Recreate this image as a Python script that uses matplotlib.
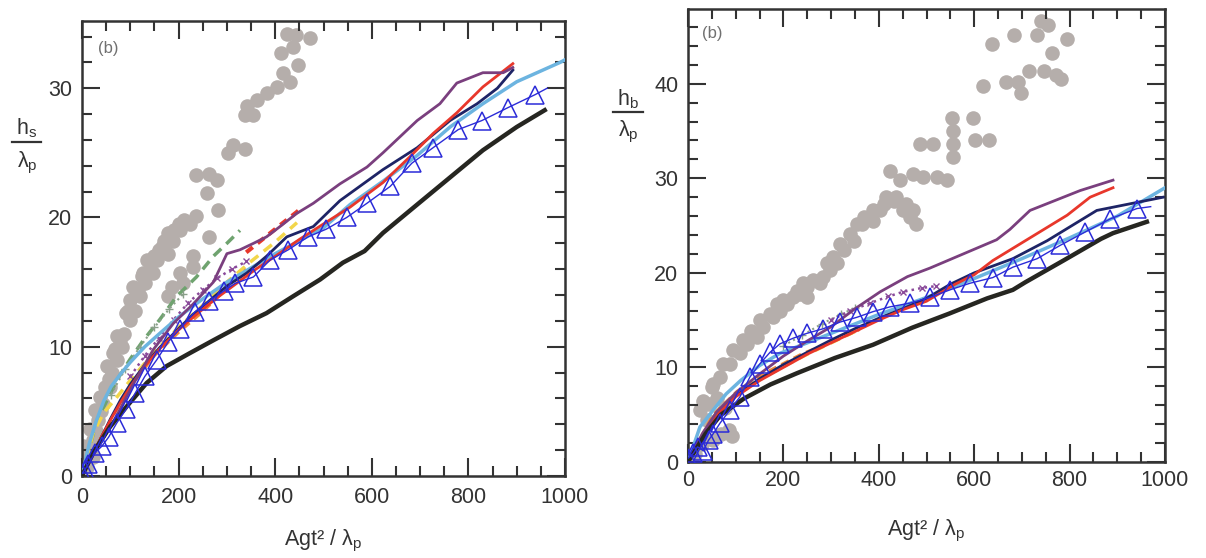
import numpy as np
import matplotlib
matplotlib.use('Agg')
import matplotlib.pyplot as plt
from matplotlib.lines import Line2D
from matplotlib.ticker import MultipleLocator

plt.rcParams['font.family'] = ['Liberation Sans', 'DejaVu Sans']
plt.rcParams['mathtext.fontset'] = 'custom'
plt.rcParams['mathtext.rm'] = 'Liberation Sans'

# ---------------- left panel (h_s / lambda_p) ----------------
ls_dots_x = [424, 444, 472, 413, 437, 448, 417, 431, 403, 382, 362, 341, 337, 355, 313, 337, 303,
             237, 262, 279, 258, 282, 237, 200, 179, 203, 224, 165, 189, 155, 179, 148, 130, 120,
             110, 99, 86, 82, 72, 62, 58, 44, 34, 23, 10, 10,
             262, 230, 230, 203, 186, 179, 210, 134, 127, 106, 99, 92, 72, 65, 51, 48, 37, 27, 17, 3, 23,
             115, 125, 140, 160, 170, 190, 212, 150, 95, 78, 68, 55, 40, 30, 20]
ls_dots_y = [34.2, 34.1, 33.9, 32.7, 33.2, 31.8, 31.2, 30.5, 30.1, 29.6, 29.1, 28.6, 27.9, 27.9, 25.6, 25.3, 25.0,
             23.3, 23.4, 22.9, 21.9, 20.6, 20.1, 19.5, 18.8, 19.0, 19.5, 17.7, 18.2, 16.7, 17.2, 15.7, 14.9, 13.9,
             12.8, 12.1, 11.0, 10.0, 9.0, 8.0, 6.9, 5.6, 4.3, 2.8, 1.8, 0.7,
             18.5, 17.0, 16.2, 15.7, 14.6, 13.9, 14.9, 16.7, 15.7, 14.6, 13.6, 12.6, 10.8, 9.5, 8.5, 6.9, 6.1, 5.1, 3.6, 2.3, 1.5,
             14.5, 15.5, 16.0, 17.5, 18.2, 19.0, 19.8, 17.0, 12.8, 10.5, 9.8, 7.5, 5.0, 3.5, 2.5]

ls_black_x = [0, 23, 58, 93, 134, 175, 223, 272, 327, 382, 437, 493, 540, 585, 623, 694, 762, 830, 900, 958]
ls_black_y = [0, 1.8, 3.8, 5.4, 7.2, 8.5, 9.5, 10.5, 11.6, 12.6, 13.9, 15.2, 16.5, 17.4, 18.8, 21.0, 23.1, 25.2, 27.0, 28.3]

ls_purple_x = [0, 23, 65, 106, 148, 189, 230, 272, 286, 300, 327, 355, 382, 410, 444, 479, 534, 590, 623, 694, 741, 776, 830, 872, 892]
ls_purple_y = [0, 1.6, 4.2, 7.1, 9.8, 11.8, 13.3, 15.0, 16.1, 17.2, 17.5, 18.0, 18.5, 19.3, 20.3, 21.1, 22.6, 23.9, 25.0, 27.5, 28.8, 30.4, 31.2, 31.2, 31.6]

ls_red_x = [0, 20, 40, 60, 80, 100, 130, 160, 200, 240, 280, 320, 360, 400, 450, 500, 555, 623, 679, 727, 776, 830, 892]
ls_red_y = [0, 1.5, 3.0, 4.4, 5.7, 6.9, 8.5, 9.8, 11.3, 12.6, 13.8, 14.9, 16.0, 17.0, 18.3, 19.5, 20.8, 22.7, 24.7, 26.5, 28.1, 30.1, 31.9]

ls_redshort_x = [340, 370, 410, 444, 450]
ls_redshort_y = [17.3, 18.2, 19.4, 20.4, 20.6]

ls_navy_x = [0, 20, 40, 60, 80, 100, 130, 160, 200, 230, 265, 300, 341, 382, 424, 479, 534, 623, 694, 762, 818, 860, 892]
ls_navy_y = [0, 1.5, 3.0, 4.5, 5.9, 7.1, 8.6, 9.9, 11.4, 12.5, 13.6, 14.7, 15.7, 17.0, 18.5, 19.3, 21.3, 23.7, 25.4, 27.5, 28.8, 30.0, 31.4]

ls_lblue_x = [0, 15, 30, 45, 60, 80, 100, 130, 160, 200, 250, 300, 350, 400, 450, 500, 555, 623, 694, 762, 830, 900, 990, 1000]
ls_lblue_y = [0, 2.5, 4.3, 5.8, 6.9, 7.9, 8.8, 10.0, 11.0, 12.3, 13.7, 15.0, 16.1, 17.2, 18.2, 19.2, 21.0, 22.8, 24.8, 27.0, 28.8, 30.5, 32.0, 32.2]

ls_yellow_x = [0, 23, 45, 70, 100, 150, 200, 250, 300, 350, 400, 445]
ls_yellow_y = [0, 3.3, 4.9, 6.0, 7.4, 9.6, 11.5, 13.2, 15.0, 16.6, 18.1, 19.6]

ls_orange_x = [0, 30, 60, 100, 150, 200, 250, 300, 340]
ls_orange_y = [0, 2.3, 4.4, 6.9, 9.3, 11.1, 12.7, 14.5, 16.0]

ls_green_x = [0, 30, 72, 99, 127, 161, 196, 237, 272, 300, 327]
ls_green_y = [0, 4.2, 7.4, 9.0, 10.5, 12.1, 13.9, 15.4, 17.0, 18.0, 19.0]

ls_pcross_x = [100, 130, 160, 190, 220, 250, 280, 310, 340]
ls_pcross_y = [7.7, 9.3, 10.7, 12.1, 13.4, 14.4, 15.3, 16.0, 16.6]

ls_gplus_x = [60, 90, 120, 150, 180, 210]
ls_gplus_y = [6.3, 8.3, 10.0, 11.5, 12.9, 14.1]

ls_tri_x = [0, 6, 13, 27, 41, 55, 72, 92, 110, 130, 155, 179, 203, 234, 262, 293, 317, 355, 389, 427,
            468, 506, 548, 590, 638, 683, 727, 779, 828, 882, 938, 963]
ls_tri_y = [0.2, 0.5, 0.9, 1.8, 2.3, 3.0, 4.1, 5.2, 6.4, 7.7, 9.0, 10.4, 11.4, 12.7, 13.5, 14.3, 14.9, 15.4, 16.7, 17.5,
            18.5, 19.1, 20.0, 21.1, 22.4, 24.2, 25.4, 26.8, 27.5, 28.5, 29.5, 30.0]

# ---------------- right panel (h_b / lambda_p) ----------------
rb_dots_x = [25, 32, 50, 53, 67, 74, 88, 95, 109, 116, 123, 133, 144, 151, 158, 172, 179, 186, 193, 200,
             207, 221, 228, 235, 242, 249, 249, 263, 277, 284, 291, 298, 305, 312, 319, 326, 340, 347,
             354, 364, 368, 388, 388, 403, 410, 416, 431, 437, 451, 458, 465, 472, 479, 444, 423, 472,
             493, 521, 542, 486, 514, 553, 556, 556, 556, 598, 602, 630, 619, 637, 667, 683, 691, 699,
             715, 731, 739, 755, 747, 763, 771, 783, 795, 14, 29, 39, 53, 69, 77, 85, 93, 61, 45]
rb_dots_y = [5.5, 6.4, 7.9, 8.3, 9.0, 10.4, 10.4, 11.8, 11.5, 12.9, 12.5, 13.9, 13.2, 15.0, 14.3, 15.7, 15.3, 16.7, 16.0, 17.1,
             16.7, 17.4, 18.1, 17.8, 18.9, 17.4, 18.5, 19.2, 18.9, 19.6, 21.0, 20.3, 21.7, 21.0, 23.1, 22.4, 24.1, 23.4,
             25.2, 25.2, 25.9, 25.5, 26.6, 26.6, 27.3, 28.0, 27.6, 28.0, 26.6, 27.3, 25.9, 26.6, 25.2, 29.8, 30.8, 30.5,
             30.1, 30.1, 29.8, 33.6, 33.6, 36.4, 35.0, 33.6, 32.2, 36.4, 34.0, 34.0, 39.8, 44.2, 40.2, 45.1, 40.2, 39.0,
             41.3, 45.1, 46.6, 46.2, 41.3, 43.2, 40.9, 40.5, 44.7, 0.8, 1.9, 4.4, 2.3, 3.0, 5.7, 3.4, 2.7, 6.8, 6.1]

rb_black_x = [0, 37, 69, 117, 173, 229, 308, 388, 470, 548, 627, 681, 707, 787, 866, 891, 962]
rb_black_y = [0, 3.0, 5.0, 6.7, 8.2, 9.4, 11.0, 12.4, 14.2, 15.7, 17.3, 18.2, 19.0, 21.3, 23.6, 24.2, 25.4]

rb_purple_x = [0, 30, 60, 100, 150, 200, 250, 300, 350, 403, 460, 507, 577, 647, 675, 717, 822, 891]
rb_purple_y = [0, 3.0, 5.3, 7.3, 9.3, 11.2, 12.8, 14.3, 16.2, 18.0, 19.6, 20.5, 22.0, 23.5, 24.6, 26.6, 28.7, 29.8]

rb_red_x = [0, 30, 60, 100, 150, 200, 250, 300, 350, 400, 450, 500, 560, 600, 639, 717, 795, 843, 891]
rb_red_y = [0, 2.8, 5.0, 6.9, 8.6, 10.0, 11.4, 12.6, 13.8, 15.0, 16.1, 17.0, 18.8, 19.8, 21.3, 23.7, 26.1, 28.0, 29.0]

rb_navy_x = [0, 30, 60, 100, 150, 200, 250, 300, 350, 400, 450, 500, 550, 600, 681, 753, 857, 996]
rb_navy_y = [0, 2.8, 5.0, 7.0, 8.8, 10.3, 11.6, 12.9, 14.1, 15.2, 16.2, 17.3, 18.8, 20.0, 21.5, 23.4, 26.6, 28.0]

rb_lblue_x = [0, 25, 53, 80, 110, 150, 193, 250, 300, 350, 400, 450, 500, 550, 600, 700, 800, 900, 1000]
rb_lblue_y = [0, 3.7, 5.5, 7.2, 8.6, 10.2, 11.5, 12.6, 13.6, 14.6, 15.6, 16.5, 17.4, 18.4, 19.4, 21.5, 23.7, 26.0, 29.0]

rb_yellow_x = [0, 50, 100, 150, 200, 250, 300, 350]
rb_yellow_y = [0, 4.6, 7.0, 8.7, 10.1, 11.4, 12.6, 13.8]

rb_orange_x = [0, 52, 103, 172, 241, 312, 360]
rb_orange_y = [0, 5.0, 7.5, 9.7, 11.5, 12.9, 14.0]

rb_gplus_x = [200, 240, 280, 320, 350]
rb_gplus_y = [12.3, 13.4, 14.6, 15.6, 16.3]

rb_pcross_x = [300, 340, 382, 420, 451, 490, 520]
rb_pcross_y = [15.0, 16.0, 16.8, 17.5, 18.0, 18.4, 18.6]

rb_tri_x = [0, 11, 20, 32, 43, 53, 67, 88, 109, 130, 151, 172, 193, 221, 249, 284, 319, 354, 388, 423,
            465, 507, 549, 591, 639, 681, 732, 780, 832, 885, 941, 970]
rb_tri_y = [0.4, 0.9, 1.6, 1.2, 2.3, 3.0, 4.1, 5.5, 6.9, 9.0, 10.4, 11.6, 12.5, 13.1, 13.6, 14.1, 14.8, 15.3, 15.9, 16.4,
            16.8, 17.4, 18.2, 18.9, 19.5, 20.6, 21.5, 22.9, 24.3, 25.7, 26.8, 27.0]

FG = '#333333'
GRAY = '#b5aeab'


def style_axis(ax, ymax):
    ax.set_xlim(0, 1000)
    ax.set_ylim(0, ymax)
    ax.xaxis.set_major_locator(MultipleLocator(200))
    ax.xaxis.set_minor_locator(MultipleLocator(50))
    ax.yaxis.set_major_locator(MultipleLocator(10))
    ax.yaxis.set_minor_locator(MultipleLocator(2))
    ax.tick_params(which='both', direction='in', top=True, right=True, colors=FG,
                   labelsize=15.5, width=1.5)
    ax.tick_params(which='major', length=13)
    ax.tick_params(which='minor', length=7)
    for s in ax.spines.values():
        s.set_linewidth(1.8)
        s.set_color(FG)


def draw_bundle(ax, d):
    ax.plot(d['dots'][0], d['dots'][1], 'o', color=GRAY, ms=10.5, mec='none', zorder=1)
    if d['green']:
        ax.plot(d['green'][0], d['green'][1], '--', color='#6fa36f', lw=2.5, dashes=(3, 2), zorder=2)
    ax.plot(d['gplus'][0], d['gplus'][1], ':', color='#8aa08a', lw=1.5, marker='+', ms=6, zorder=2)
    ax.plot(d['yellow'][0], d['yellow'][1], '--', color='#f2d64a', lw=2.5, dashes=(3, 2), zorder=2)
    ax.plot(d['orange'][0], d['orange'][1], '--', color='#f08a3a', lw=2, dashes=(3, 2), zorder=2)
    ax.plot(d['pcross'][0], d['pcross'][1], ':', color='#8a4a9a', lw=1.8, marker='x', ms=5, zorder=2)
    ax.plot(d['lblue'][0], d['lblue'][1], '-', color='#6cb4e0', lw=2.5, zorder=3)
    ax.plot(d['navy'][0], d['navy'][1], '-', color='#1e2466', lw=2, zorder=3)
    ax.plot(d['red'][0], d['red'][1], '-', color='#e8372b', lw=2, zorder=3)
    if d['redshort']:
        ax.plot(d['redshort'][0], d['redshort'][1], '--', color='#e8372b', lw=3, dashes=(2, 1.5), zorder=3)
    ax.plot(d['purple'][0], d['purple'][1], '-', color='#7a3f7e', lw=2, zorder=4)
    ax.plot(d['black'][0], d['black'][1], '-', color='#262621', lw=3.2, zorder=4)
    tx, ty = d['tri']
    ax.plot(tx, ty, '-', color='#2b2bd8', lw=1, marker='^', ms=12.5, mfc='none', mec='#2b2bd8',
            mew=1.1, markevery=list(range(len(tx) - 1)), zorder=5)


fig = plt.figure(figsize=(12.06, 5.58), dpi=100)
ax1 = fig.add_axes([82 / 1206, 1 - 476 / 558, 483 / 1206, 455 / 558])
ax2 = fig.add_axes([688 / 1206, 1 - 462 / 558, 477 / 1206, 453 / 558])

draw_bundle(ax1, dict(dots=(ls_dots_x, ls_dots_y), black=(ls_black_x, ls_black_y),
                      purple=(ls_purple_x, ls_purple_y), red=(ls_red_x, ls_red_y),
                      redshort=(ls_redshort_x, ls_redshort_y), navy=(ls_navy_x, ls_navy_y),
                      lblue=(ls_lblue_x, ls_lblue_y), yellow=(ls_yellow_x, ls_yellow_y),
                      orange=(ls_orange_x, ls_orange_y), green=(ls_green_x, ls_green_y),
                      pcross=(ls_pcross_x, ls_pcross_y), gplus=(ls_gplus_x, ls_gplus_y),
                      tri=(ls_tri_x, ls_tri_y)))
draw_bundle(ax2, dict(dots=(rb_dots_x, rb_dots_y), black=(rb_black_x, rb_black_y),
                      purple=(rb_purple_x, rb_purple_y), red=(rb_red_x, rb_red_y),
                      redshort=None, navy=(rb_navy_x, rb_navy_y),
                      lblue=(rb_lblue_x, rb_lblue_y), yellow=(rb_yellow_x, rb_yellow_y),
                      orange=(rb_orange_x, rb_orange_y), green=None,
                      pcross=(rb_pcross_x, rb_pcross_y), gplus=(rb_gplus_x, rb_gplus_y),
                      tri=(rb_tri_x, rb_tri_y)))

style_axis(ax1, 35.2)
style_axis(ax2, 47.9)
ax1.tick_params(which='major', axis='x', pad=8)
ax2.tick_params(which='major', axis='x', pad=6)
ax1.tick_params(which='major', axis='y', pad=7)
ax2.tick_params(which='major', axis='y', pad=7)

xlab = 'Agt² / λ$_\\mathregular{p}$'
ax1.set_xlabel(xlab, fontsize=15.5, color=FG, labelpad=14)
ax2.set_xlabel(xlab, fontsize=15.5, color=FG, labelpad=19)

ax1.text(0.033, 0.94, '(b)', transform=ax1.transAxes, fontsize=12, color='#707070', va='center')
ax2.text(0.029, 0.945, '(b)', transform=ax2.transAxes, fontsize=12, color='#707070', va='center')


# fraction style y labels
def frac_label(xc, ytop, ybar, ybot, x0, x1, sub):
    fig.text(xc / 1206, 1 - ytop / 558, 'h$_\\mathregular{%s}$' % sub, fontsize=15.5, color=FG,
             ha='center', va='center')
    fig.add_artist(Line2D([x0 / 1206, x1 / 1206], [1 - ybar / 558, 1 - ybar / 558],
                          color=FG, lw=1.6, transform=fig.transFigure))
    fig.text(xc / 1206, 1 - ybot / 558, 'λ$_\\mathregular{p}$', fontsize=15.5, color=FG,
             ha='center', va='center')


frac_label(27, 128, 142, 163, 12, 41, 's')
frac_label(628, 99, 112, 132, 613, 643, 'b')

fig.savefig('out.png', dpi=100)
